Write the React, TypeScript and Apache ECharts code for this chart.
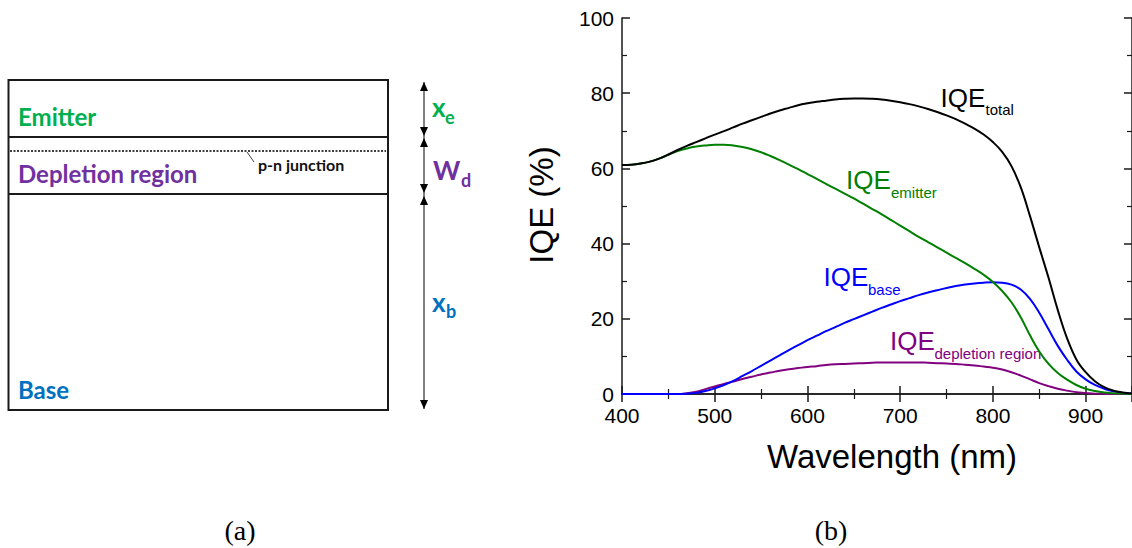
import React, { useEffect, useRef } from "react";
import * as echarts from "echarts";

// Wavelength grid (nm)
const wavelengths = [
  400, 410, 420, 430, 440, 450, 460, 470, 480, 490,
  500, 510, 520, 530, 540, 550, 560, 570, 580, 590,
  600, 610, 620, 630, 640, 650, 660, 670, 680, 690,
  700, 710, 720, 730, 740, 750, 760, 770, 780, 790,
  800, 810, 820, 830, 840, 850, 860, 870, 880, 890,
  900, 910, 920, 930, 940, 950,
];

// Internal quantum efficiency (%) per region
const iqeTotal = [
  60.9, 61.0, 61.3, 61.8, 62.6, 63.7, 64.9, 66.0, 67.0, 68.0,
  69.0, 69.9, 70.9, 71.9, 72.8, 73.7, 74.6, 75.4, 76.1, 76.8,
  77.3, 77.7, 78.0, 78.3, 78.5, 78.6, 78.6, 78.5, 78.3, 78.0,
  77.6, 77.1, 76.5, 75.8, 75.0, 74.1, 73.1, 71.9, 70.6, 69.0,
  67.0, 64.4, 60.6, 55.0, 47.3, 39.0, 30.9, 22.3, 14.8, 9.2,
  5.8, 3.4, 1.8, 0.9, 0.4, 0.1,
];

const iqeEmitter = [
  60.9, 61.0, 61.3, 61.8, 62.6, 63.6, 64.6, 65.3, 65.8, 66.1,
  66.3, 66.3, 66.1, 65.7, 65.1, 64.3, 63.3, 62.2, 61.0, 59.8,
  58.5, 57.2, 55.9, 54.6, 53.3, 52.0, 50.6, 49.2, 47.8, 46.3,
  44.8, 43.3, 41.8, 40.4, 39.0, 37.6, 36.2, 34.8, 33.3, 31.7,
  29.8, 27.4, 24.4, 20.4, 15.6, 11.3, 8.0, 5.6, 3.8, 2.4,
  1.4, 0.8, 0.4, 0.2, 0.1, 0.0,
];

const iqeBase = [
  0, 0, 0, 0, 0, 0, 0, 0.1, 0.3, 0.8,
  1.5, 2.4, 3.5, 4.8, 6.1, 7.5, 8.9, 10.3, 11.7, 13.0,
  14.3, 15.5, 16.7, 17.8, 18.9, 19.9, 20.9, 21.9, 22.9, 23.8,
  24.7, 25.5, 26.3, 27.0, 27.6, 28.2, 28.7, 29.1, 29.4, 29.6,
  29.7, 29.6, 29.1, 27.8, 25.3, 21.6, 17.2, 12.8, 9.1, 6.0,
  3.9, 2.4, 1.4, 0.7, 0.3, 0.1,
];

const iqeDepletion = [
  0, 0, 0, 0, 0, 0, 0, 0.2, 0.6, 1.3,
  2.0, 2.7, 3.3, 4.0, 4.6, 5.2, 5.7, 6.2, 6.6, 6.9,
  7.2, 7.4, 7.7, 7.9, 8.0, 8.1, 8.2, 8.3, 8.4, 8.4,
  8.4, 8.4, 8.4, 8.3, 8.2, 8.1, 8.0, 7.8, 7.6, 7.3,
  7.0, 6.5, 5.8, 4.9, 3.9, 2.9, 2.1, 1.4, 0.9, 0.5,
  0.3, 0.1, 0.05, 0, 0, 0,
];

const xTicks = { min: 400, max: 950, interval: 100 };
const yTicks = { min: 0, max: 100, interval: 20 };

const SANS = '"Liberation Sans", Arial, sans-serif';
const boldFont = (s: number) => `bold ${s}px Lato, "Open Sans", sans-serif`;
const sansFont = (s: number) => `${s}px ${SANS}`;
const serifFont = (s: number) => `${s}px "Liberation Serif", "Times New Roman", serif`;

const toPairs = (ys: number[]) => wavelengths.map((w, i) => [w, ys[i]]);

const AXIS_COLOR = "#1a1a1a";
const TICK_FONT = 21;

function axisCommon(showLabel: boolean, margin: number) {
  return {
    axisLine: { show: true, lineStyle: { color: AXIS_COLOR, width: 1.5 } },
    axisTick: { show: true, inside: true, length: 8, lineStyle: { color: AXIS_COLOR, width: 1.5 } },
    minorTick: { show: true, splitNumber: 2, length: 5, lineStyle: { color: AXIS_COLOR, width: 1.2 } },
    splitLine: { show: false },
    axisLabel: {
      show: showLabel,
      color: "#000",
      fontFamily: SANS,
      fontSize: TICK_FONT,
      margin,
      showMaxLabel: false,
    },
  };
}

// Main text followed by a smaller subscript
function subLabel(
  main: string,
  sub: string,
  x: number,
  y: number,
  subX: number,
  subY: number,
  color: string,
  font: (s: number) => string,
  mainSize: number,
  subSize: number
) {
  return [
    {
      type: "text",
      x,
      y,
      style: { text: main, font: font(mainSize), fill: color, textAlign: "left", textVerticalAlign: "middle" },
    },
    {
      type: "text",
      x: subX,
      y: subY,
      style: { text: sub, font: font(subSize), fill: color, textAlign: "left", textVerticalAlign: "middle" },
    },
  ];
}

function arrowHead(tipX: number, tipY: number, up: boolean) {
  const d = up ? 9 : -9;
  return {
    type: "polygon",
    shape: { points: [[tipX, tipY], [tipX - 4, tipY + d], [tipX + 4, tipY + d]] },
    style: { fill: "#000" },
  };
}

function plainText(text: string, x: number, y: number, font: string, fill: string, align = "left") {
  return {
    type: "text",
    x,
    y,
    style: { text, font, fill, textAlign: align, textVerticalAlign: "middle" },
  };
}

function buildGraphics() {
  const g: any[] = [];
  // Panel (a): emitter / depletion region / base stack
  g.push({
    type: "rect",
    shape: { x: 8.5, y: 80, width: 379.5, height: 330 },
    style: { fill: "none", stroke: "#1a1a1a", lineWidth: 2 },
  });
  g.push({ type: "line", shape: { x1: 8.5, y1: 137, x2: 388, y2: 137 }, style: { stroke: "#1a1a1a", lineWidth: 2 } });
  g.push({ type: "line", shape: { x1: 8.5, y1: 194, x2: 388, y2: 194 }, style: { stroke: "#1a1a1a", lineWidth: 2 } });
  g.push({
    type: "line",
    shape: { x1: 10, y1: 151, x2: 386, y2: 151 },
    style: { stroke: "#000", lineWidth: 1.5, lineDash: [2, 1.5] },
  });
  g.push({ type: "line", shape: { x1: 247, y1: 152, x2: 254, y2: 162 }, style: { stroke: "#444", lineWidth: 1 } });
  g.push(plainText("p-n junction", 258, 164.6, boldFont(16), "#111"));
  g.push(plainText("Emitter", 18, 116, boldFont(24), "#00b050"));
  g.push(plainText("Depletion region", 18, 173.5, boldFont(24), "#7030a0"));
  g.push(plainText("Base", 18, 389, boldFont(24), "#0070c0"));

  // Layer thickness arrows
  g.push({ type: "line", shape: { x1: 424, y1: 82, x2: 424, y2: 409 }, style: { stroke: "#000", lineWidth: 1 } });
  g.push(arrowHead(424, 82, true));
  g.push(arrowHead(424, 136, false));
  g.push(arrowHead(424, 138, true));
  g.push(arrowHead(424, 193, false));
  g.push(arrowHead(424, 196, true));
  g.push(arrowHead(424, 409, false));
  g.push(...subLabel("x", "e", 432, 107, 445, 117.4, "#00b050", boldFont, 26, 18));
  g.push(...subLabel("W", "d", 433, 170, 461, 180.4, "#7030a0", boldFont, 26, 18));
  g.push(...subLabel("x", "b", 432, 302, 446, 311.4, "#0070c0", boldFont, 26, 18));

  // Panel (b): curve annotations
  g.push(...subLabel("IQE", "total", 940.5, 98.3, 985.5, 109.8, "#000", sansFont, 26, 15));
  g.push(...subLabel("IQE", "emitter", 846, 180.3, 891, 192.1, "#008000", sansFont, 26, 15));
  g.push(...subLabel("IQE", "base", 823.5, 277, 868, 289.8, "#0000ff", sansFont, 26, 15));
  g.push(...subLabel("IQE", "depletion region", 890, 341, 934.5, 353.1, "#800080", sansFont, 26, 15));

  // Axis titles
  g.push({
    type: "text",
    x: 541,
    y: 205,
    rotation: Math.PI / 2,
    style: { text: "IQE (%)", font: sansFont(33), fill: "#000", textAlign: "center", textVerticalAlign: "middle" },
  });
  g.push(plainText("Wavelength (nm)", 892, 456, sansFont(33), "#000", "center"));

  // Panel captions
  g.push(plainText("(a)", 240, 530, serifFont(28), "#000", "center"));
  g.push(plainText("(b)", 831, 530, serifFont(28), "#000", "center"));
  return g;
}

export default function App() {
  const ref = useRef<HTMLDivElement>(null);

  useEffect(() => {
    document.body.style.margin = "0";
    if (!ref.current) return;
    const chart = echarts.init(ref.current, undefined, { renderer: "svg" });

    const lineSeries = (name: string, ys: number[], color: string, z: number) => ({
      name,
      type: "line",
      data: toPairs(ys),
      smooth: 0.4,
      symbol: "none",
      z,
      lineStyle: { color, width: 2 },
      itemStyle: { color },
    });

    chart.setOption({
      animation: false,
      backgroundColor: "#ffffff",
      grid: { left: 622, top: 18, width: 514, height: 376, containLabel: false },
      xAxis: [
        { type: "value", position: "bottom", ...xTicks, ...axisCommon(true, 11) },
        { type: "value", position: "top", ...xTicks, ...axisCommon(false, 8) },
      ],
      yAxis: [
        {
          type: "value",
          position: "left",
          ...yTicks,
          ...axisCommon(true, 8),
          axisLabel: { ...axisCommon(true, 8).axisLabel, showMaxLabel: true },
        },
        { type: "value", position: "right", ...yTicks, ...axisCommon(false, 8) },
      ],
      series: [
        lineSeries("IQE depletion region", iqeDepletion, "#800080", 2),
        lineSeries("IQE base", iqeBase, "#0000ff", 3),
        lineSeries("IQE emitter", iqeEmitter, "#008000", 4),
        lineSeries("IQE total", iqeTotal, "#000000", 5),
      ],
      graphic: buildGraphics(),
    });

    return () => chart.dispose();
  }, []);

  return <div ref={ref} style={{ width: 1132, height: 548 }} />;
}
